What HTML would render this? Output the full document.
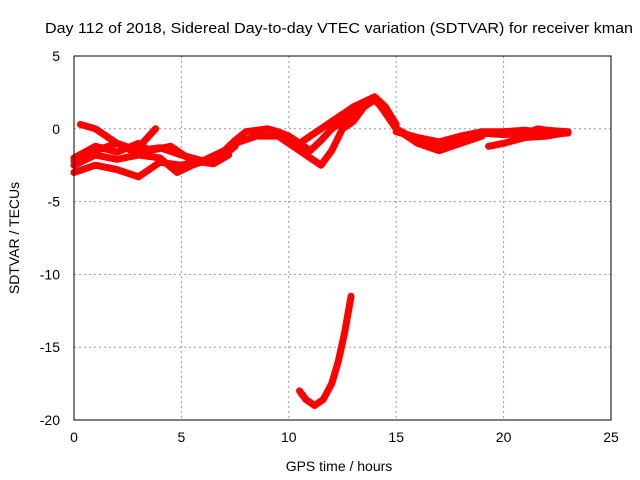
<!DOCTYPE html>
<html><head><meta charset="utf-8"><style>
body{margin:0;background:#fff}
svg{display:block;font-family:"Liberation Sans",sans-serif}
</style></head><body>
<svg id="chart" width="640" height="480">
<text x="339" y="33" font-size="15" text-anchor="middle" textLength="588" lengthAdjust="spacingAndGlyphs">Day 112 of 2018, Sidereal Day-to-day VTEC variation (SDTVAR) for receiver kman</text>
<text x="339" y="471" font-size="14" text-anchor="middle">GPS time / hours</text>
<text transform="translate(19,238) rotate(-90)" font-size="14" text-anchor="middle">SDTVAR / TECUs</text>
<g id="grid"></g><g id="ticks"></g><g id="series"></g>
<rect x="74" y="56" width="537" height="364" fill="none" stroke="#000"/>
</svg>
<script>
const xTicks=[0,5,10,15,20,25];
const yTicks=[5,0,-5,-10,-15,-20];
const track1=[[0.3,0.3],[1,0],[1.5,-0.5],[2,-1],[3,-1.5],[4,-1.3],[5,-1.8],[6,-2.2],[7,-1.5],[7.5,-0.8],[8,-0.2],[9,0],[9.5,-0.2],[10,-0.5],[11,-1.5],[11.5,-0.8],[12,0],[13,1],[13.5,1.6],[14,2],[14.4,1.5],[15,0],[15.5,-0.4],[16,-0.8],[17,-1],[18,-0.8],[19,-0.3],[20,-0.4],[21,-0.3],[21.6,0],[22,-0.1],[23,-0.2]];
const track2=[[0,-2.2],[1,-1.5],[2,-1.0],[2.8,-1.6],[3.8,0]];
const track3=[[0,-3],[1,-2.5],[2,-2.8],[3,-3.3],[4,-2.3],[5,-2.5],[6,-2.2],[7,-1.8],[7.5,-1.2]];
const track4=[[0,-2.5],[1,-1.8],[2,-2.1],[3,-1.8],[4,-2],[4.8,-3],[5.5,-2.5],[6.5,-2],[7.5,-1],[8.5,-0.5],[9.5,-0.5],[10.5,-1.5],[11,-2],[11.5,-2.5],[12,-1.5],[12.5,0],[13,0.5],[13.5,1.5],[14,2],[14.3,1.5],[15,0],[16,-1],[17,-1.5],[18,-1],[19,-0.5]];
const track5=[[10.5,-1],[11,-0.5],[12,0.5],[13,1.5],[14,2.2],[14.5,1.5],[15,0.3]];
const track6=[[19.3,-1.2],[20,-1],[21,-0.6],[22,-0.5],[22.8,-0.3]];
const track7=[[10.5,-18],[10.8,-18.6],[11.2,-19],[11.6,-18.6],[12,-17.5],[12.3,-16],[12.6,-14],[12.9,-11.5]];
const track8=[[0,-2],[1,-1.2],[2,-1.6],[3,-1],[3.5,-1.5],[4.5,-1.2],[5.5,-2.2],[6.5,-2.4],[7.2,-1.8]];
const track9=[[15,-0.2],[16,-0.6],[17,-0.9],[18,-0.5],[19,-0.2],[20,-0.2],[21,-0.1],[22,-0.3],[23,-0.3]];
const tracks=[track1,track2,track3,track4,track5,track6,track7,track8,track9];
const NS="http://www.w3.org/2000/svg";
const X=h=>74+h*537/25, Y=v=>56+(5-v)*364/25;
const grid=document.getElementById('grid'),ticks=document.getElementById('ticks'),ser=document.getElementById('series');
function mk(t,a,p){const e=document.createElementNS(NS,t);for(const k in a)e.setAttribute(k,a[k]);p.appendChild(e);return e;}
xTicks.forEach(t=>{
 if(t>0&&t<25){const g=mk('line',{x1:X(t),x2:X(t),y1:56,y2:420,stroke:'#999','stroke-dasharray':'2,3'},grid);
 
 }
 const l=mk('text',{x:X(t),y:442,'font-size':14,'text-anchor':'middle'},ticks);l.textContent=t;
 
 
});
yTicks.forEach(t=>{
 if(t<5&&t>-20){const g=mk('line',{x1:74,x2:611,y1:Y(t),y2:Y(t),stroke:'#999','stroke-dasharray':'2,3'},grid);
 
 }
 const l=mk('text',{x:60,y:Y(t)+5,'font-size':14,'text-anchor':'end'},ticks);l.textContent=t;
 
 
});
tracks.forEach((tr,i)=>{
 const p=mk('polyline',{points:tr.map(d=>X(d[0])+','+Y(d[1])).join(' '),fill:'none',stroke:'#f00','stroke-width':7,'stroke-linejoin':'round','stroke-linecap':'round'},ser);
 
 
});
</script>
</body></html>
